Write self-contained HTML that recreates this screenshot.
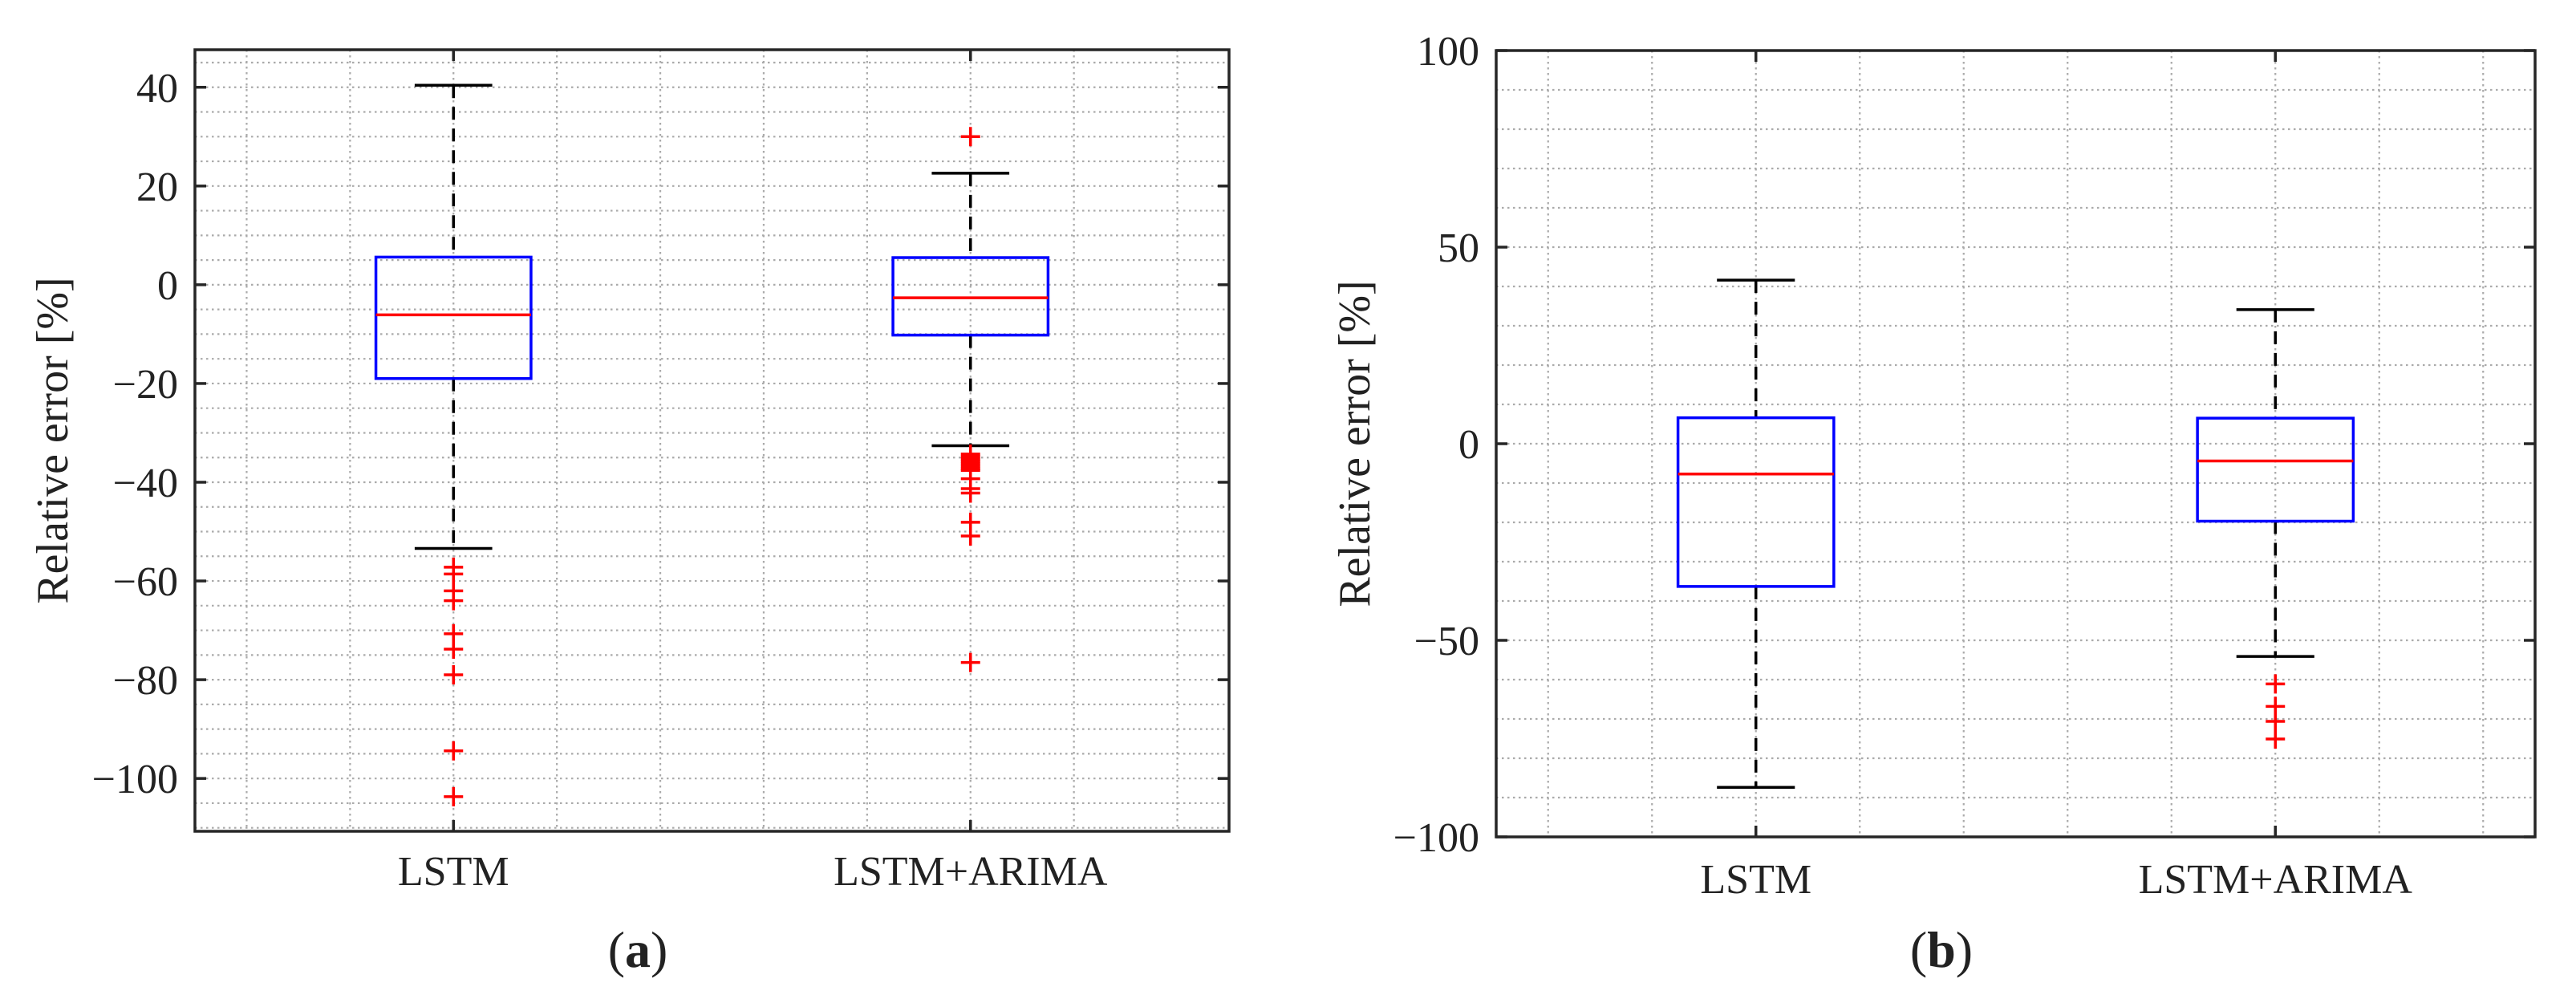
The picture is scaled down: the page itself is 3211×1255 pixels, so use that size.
<!DOCTYPE html>
<html><head><meta charset="utf-8"><style>
html,body{margin:0;padding:0;background:#fff;}
svg{display:block;}
text{font-family:"Liberation Serif",serif;fill:#222;}
</style></head><body>
<svg id="fig" width="3211" height="1255" viewBox="0 0 3211 1255" xmlns="http://www.w3.org/2000/svg">
<g id="pa"></g>
<g id="pb"></g>
<text x="795" y="1205" font-size="64" text-anchor="middle">(<tspan font-weight="bold">a</tspan>)</text>
<text x="2420" y="1205" font-size="64" text-anchor="middle">(<tspan font-weight="bold">b</tspan>)</text>
</svg>
<script>
const categories = ["LSTM", "LSTM+ARIMA"];
// panel a
const aQ3 = [5.6, 5.5];
const aMedian = [-6.1, -2.65];
const aQ1 = [-19.0, -10.2];
const aWhiskerHi = [40.4, 22.6];
const aWhiskerLo = [-53.4, -32.6];
const aOutliers0 = [-57.2, -58.6, -62.0, -64.0, -70.7, -73.8, -79.0, -94.4, -103.7];
const aOutliers1 = [30.0, -34.3, -34.8, -35.3, -35.8, -36.3, -36.8, -37.3, -37.6, -39.3, -41.3, -42.2, -48.1, -50.9, -76.5];
const aTicks = [40, 20, 0, -20, -40, -60, -80, -100];
const aTickLabels = ["40", "20", "0", "\u221220", "\u221240", "\u221260", "\u221280", "\u2212100"];
// panel b
const bQ3 = [6.6, 6.5];
const bMedian = [-7.7, -4.4];
const bQ1 = [-36.3, -19.7];
const bWhiskerHi = [41.6, 34.1];
const bWhiskerLo = [-87.4, -54.1];
const bOutliers0 = [];
const bOutliers1 = [-61.1, -66.8, -70.6, -75.1];
const bTicks = [100, 50, 0, -50, -100];
const bTickLabels = ["100", "50", "0", "\u221250", "\u2212100"];

const NS = "http://www.w3.org/2000/svg";
function mk(parent, tag, attrs) {
  const el = document.createElementNS(NS, tag);
  for (const k in attrs) el.setAttribute(k, attrs[k]);
  parent.appendChild(el);
  return el;
}

function panel(gid, cfg) {
  const g = document.getElementById(gid);
  const L = cfg.L, R = cfg.R, T = cfg.T, B = cfg.B;
  const sx = v => L + (v - 0.5) / 2 * (R - L);
  const sy = v => T + (cfg.ymax - v) / (cfg.ymax - cfg.ymin) * (B - T);
  // grid
  for (let v = Math.ceil(cfg.ymin / cfg.minor) * cfg.minor; v <= cfg.ymax; v += cfg.minor) {
    const y = sy(v);
    const ln = mk(g, "line", {x1: L, x2: R, y1: y, y2: y, stroke: "#aaa", "stroke-width": 2.2, "stroke-dasharray": "2.5 4.5"});
    
    
  }
  for (let i = 0; i < 10; i++) {
    const x = sx(0.6 + i * 0.2);
    const ln = mk(g, "line", {x1: x, x2: x, y1: T, y2: B, stroke: "#aaa", "stroke-width": 2.2, "stroke-dasharray": "2.5 4.5"});
    
    
  }
  // frame
  const fr = mk(g, "rect", {x: L, y: T, width: R - L, height: B - T, fill: "none", stroke: "#262626", "stroke-width": 3.5});
  
  
  // y ticks
  cfg.ticks.forEach((v, i) => {
    const y = sy(v);
    const t1 = mk(g, "line", {x1: L, x2: L + 14, y1: y, y2: y, stroke: "#262626", "stroke-width": 3.5});
    
    
    const t2 = mk(g, "line", {x1: R - 14, x2: R, y1: y, y2: y, stroke: "#262626", "stroke-width": 3.5});
    
    
    const tx = mk(g, "text", {x: L - 21, y: y + 18, "font-size": 52, "text-anchor": "end"});
    tx.textContent = cfg.labels[i];
    
    
  });
  // y title
  const yt = mk(g, "text", {x: 0, y: 0, "font-size": 56, "text-anchor": "middle", transform: `translate(${cfg.titleX},${(T + B) / 2}) rotate(-90)`});
  yt.textContent = "Relative error [%]";
  
  
  // boxes
  categories.forEach((c, i) => {
    const x = sx(i + 1);
    const tk1 = mk(g, "line", {x1: x, x2: x, y1: B - 14, y2: B, stroke: "#262626", "stroke-width": 3.5});
    
    
    const tk2 = mk(g, "line", {x1: x, x2: x, y1: T, y2: T + 14, stroke: "#262626", "stroke-width": 3.5});
    
    
    const xl = mk(g, "text", {x: x, y: B + cfg.labelOff, "font-size": 52, "text-anchor": "middle"});
    xl.textContent = c;
    
    
    const hw = (sx(1.15) - sx(1)), cw = (sx(1.075) - sx(1));
    const w1 = mk(g, "line", {x1: x, x2: x, y1: sy(cfg.whi[i]), y2: sy(cfg.q3[i]), stroke: "#000", "stroke-width": 3.5, "stroke-dasharray": "16 11"});
    
    
    const w2 = mk(g, "line", {x1: x, x2: x, y1: sy(cfg.q1[i]), y2: sy(cfg.wlo[i]), stroke: "#000", "stroke-width": 3.5, "stroke-dasharray": "16 11"});
    
    
    const c1 = mk(g, "line", {x1: x - cw, x2: x + cw, y1: sy(cfg.whi[i]), y2: sy(cfg.whi[i]), stroke: "#000", "stroke-width": 3.5});
    
    
    const c2 = mk(g, "line", {x1: x - cw, x2: x + cw, y1: sy(cfg.wlo[i]), y2: sy(cfg.wlo[i]), stroke: "#000", "stroke-width": 3.5});
    
    
    const bx = mk(g, "rect", {x: x - hw, y: sy(cfg.q3[i]), width: 2 * hw, height: sy(cfg.q1[i]) - sy(cfg.q3[i]), fill: "none", stroke: "#0000ff", "stroke-width": 3.5});
    
    
    const md = mk(g, "line", {x1: x - hw, x2: x + hw, y1: sy(cfg.med[i]), y2: sy(cfg.med[i]), stroke: "#ff0000", "stroke-width": 3.5});
    
    
    cfg.out[i].forEach(v => {
      const y = sy(v);
      const p = mk(g, "path", {d: `M${x - 12} ${y}H${x + 12}M${x} ${y - 12}V${y + 12}`, stroke: "#ff0000", "stroke-width": 3.5, fill: "none"});
      
      
    });
  });
}

panel("pa", {L: 243, R: 1532, T: 62, B: 1036, ymin: -110.7, ymax: 47.6, minor: 5,
  ticks: aTicks, labels: aTickLabels, titleX: 84, labelOff: 67,
  q3: aQ3, med: aMedian, q1: aQ1, whi: aWhiskerHi, wlo: aWhiskerLo, out: [aOutliers0, aOutliers1]});
panel("pb", {L: 1865, R: 3160, T: 63, B: 1043, ymin: -100, ymax: 100, minor: 10,
  ticks: bTicks, labels: bTickLabels, titleX: 1707, labelOff: 70,
  q3: bQ3, med: bMedian, q1: bQ1, whi: bWhiskerHi, wlo: bWhiskerLo, out: [bOutliers0, bOutliers1]});
</script>
</body></html>
